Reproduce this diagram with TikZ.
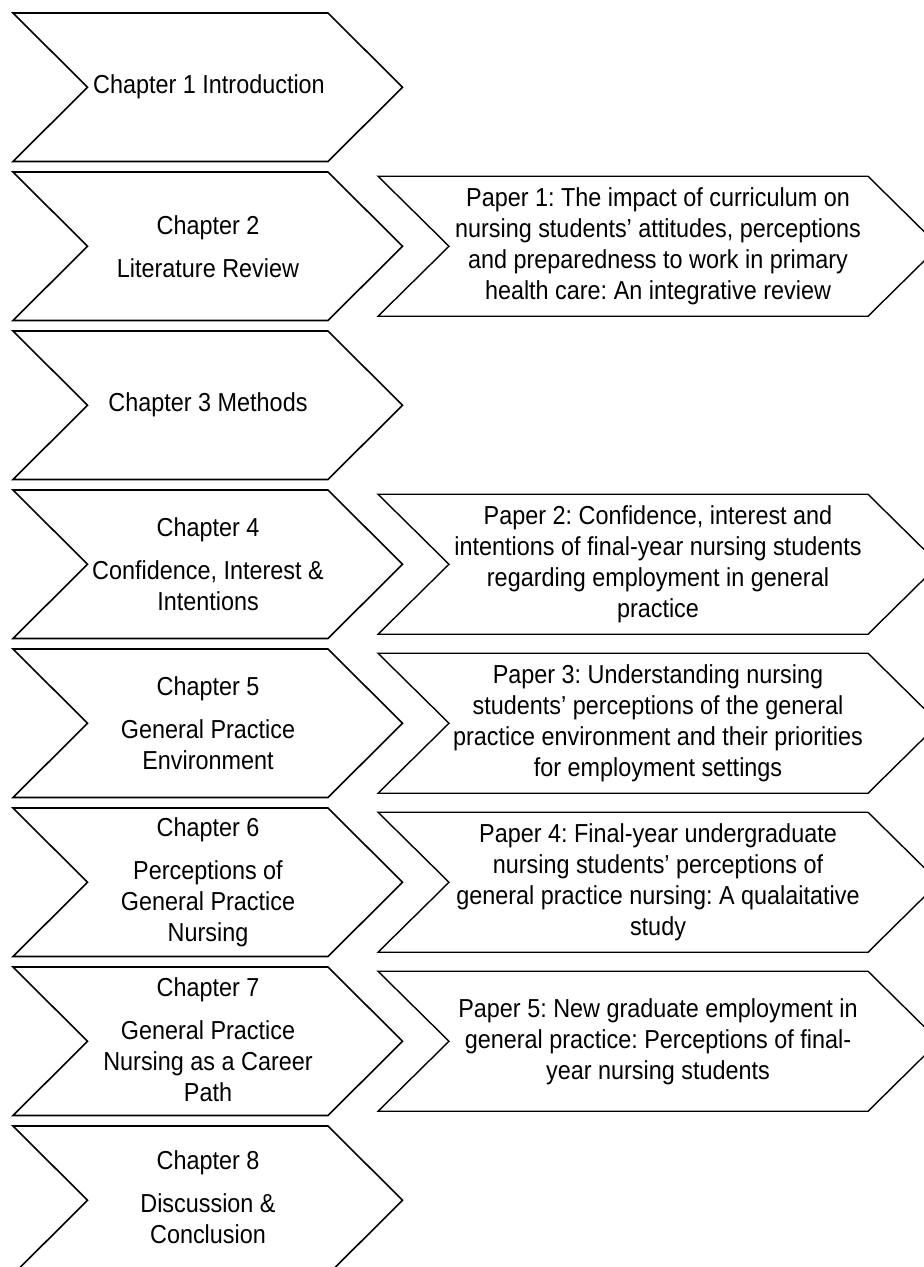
\documentclass[tikz,border=0pt]{standalone}
\usepackage{fontspec}
\setmainfont[FakeStretch=0.9]{Liberation Sans}
\frenchspacing

% Chevron outline: style, left x, top y, body width, height, point depth
\newcommand{\drawchev}[6]{%
  \draw[#1] (#2,#3) -- ++(#4,0) -- ++(#6,#5/2) -- ++(-#6,#5/2)
    -- ++(-#4,0) -- ++(#6,-#5/2) -- cycle;}

\begin{document}
\begin{tikzpicture}[x=1pt, y={(0pt,-1pt)},
  chapshape/.style={draw=black, fill=white, line width=1.6pt, line join=miter},
  papershape/.style={draw=black, fill=white, line width=1.4pt, line join=miter},
  chaptext/.style={align=center, inner sep=0pt, font=\fontsize{26}{31}\selectfont},
  papertext/.style={align=center, inner sep=0pt, font=\fontsize{26}{31}\selectfont}]

\useasboundingbox (0,0) rectangle (924,1267);
\clip (0,0) rectangle (924,1267);

% chapter chevrons (left column)
\foreach \t in {13,172,331,490,649,808,967,1126}{
  \drawchev{chapshape}{13}{\t}{315}{148.5}{74.5}
}

% paper chevrons (right column)
\foreach \t in {176.25,494.25,653.25,812.25,971.25}{
  \drawchev{papershape}{378}{\t}{490}{140}{71}
}

% chapter labels
\node[chaptext] (c1) at (209,87.25) {Chapter 1 Introduction};
\node[chaptext] (c2) at (208,246.25) {Chapter 2\\[12pt]Literature Review};
\node[chaptext] (c3) at (208,405.25) {Chapter 3 Methods};
\node[chaptext] (c4) at (208,564.25) {Chapter 4\\[12pt]Confidence, Interest \&\\Intentions};
\node[chaptext] (c5) at (208,723.25) {Chapter 5\\[12pt]General Practice\\Environment};
\node[chaptext] (c6) at (208,882.25) {Chapter 6\\[12pt]Perceptions of\\General Practice\\Nursing};
\node[chaptext] (c7) at (208,1039.25) {Chapter 7\\[12pt]General Practice\\Nursing as a Career\\Path};
\node[chaptext] (c8) at (208,1197.25) {Chapter 8\\[12pt]Discussion \&\\Conclusion};

% paper labels
\node[papertext] (p1) at (658,246.25) {Paper 1: The impact of curriculum on\\nursing students' attitudes, perceptions\\and preparedness to work in primary\\health care: An integrative review};
\node[papertext] (p2) at (658,564.25) {Paper 2: Confidence, interest and\\intentions of final-year nursing students\\regarding employment in general\\practice};
\node[papertext] (p3) at (658,723.25) {Paper 3: Understanding nursing\\students’ perceptions of the general\\practice environment and their priorities\\for employment settings};
\node[papertext] (p4) at (658,882.25) {Paper 4: Final-year undergraduate\\nursing students’ perceptions of\\general practice nursing: A qualaitative\\study};
\node[papertext] (p5) at (658,1042.25) {Paper 5: New graduate employment in\\general practice: Perceptions of final-\\year nursing students};
\end{tikzpicture}
\end{document}
